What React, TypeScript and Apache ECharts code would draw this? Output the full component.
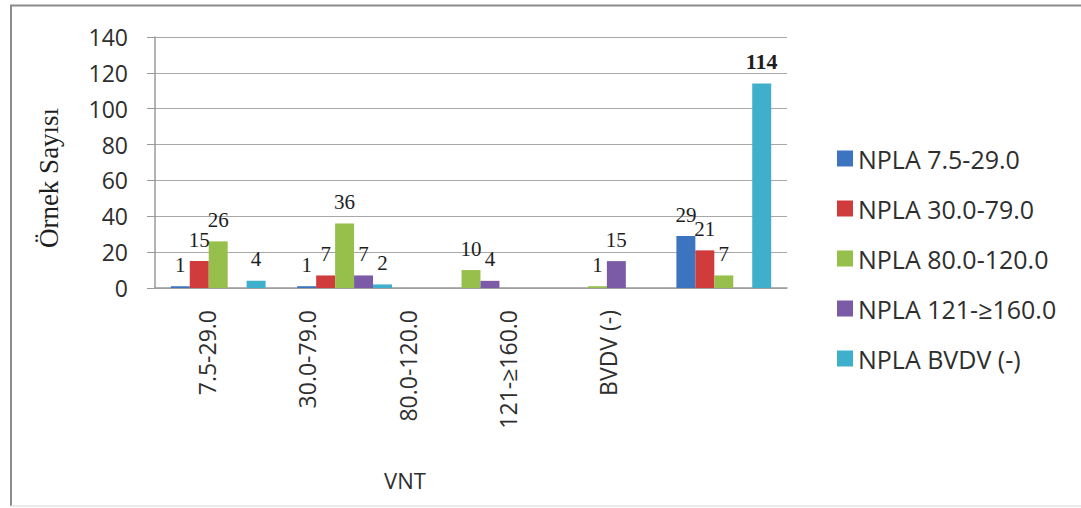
import React, { useEffect, useRef } from "react";
import * as echarts from "echarts";

// VNT categories on the x axis
const categories = ["7.5-29.0", "30.0-79.0", "80.0-120.0", "121-≥160.0", "BVDV (-)"];

// NPLA groups (one series each)
const seriesNames = [
  "NPLA 7.5-29.0",
  "NPLA 30.0-79.0",
  "NPLA 80.0-120.0",
  "NPLA 121-≥160.0",
  "NPLA BVDV (-)",
];
const npla75 = [1, 1, null, null, 29];
const npla30 = [15, 7, null, null, 21];
const npla80 = [26, 36, 10, 1, 7];
const npla121 = [null, 7, 4, 15, null];
const nplaBvdv = [4, 2, null, null, 114];

const yTicks = { min: 0, max: 140, interval: 20 };

const colors = ["#3d74c0", "#d03c3c", "#96bf4b", "#7b5aa6", "#3fb0cc"];
const SANS = "'Open Sans', 'Noto Sans', sans-serif";
const SERIF = "'Liberation Serif', 'DejaVu Serif', serif";

export default function App() {
  const ref = useRef<HTMLDivElement>(null);

  useEffect(() => {
    if (!ref.current) return;
    const chart = echarts.init(ref.current, null, { renderer: "svg" });
    const allSeries = [npla75, npla30, npla80, npla121, nplaBvdv];

    chart.setOption({
      animation: false,
      backgroundColor: "#ffffff",
      color: colors,
      grid: [
        { left: 155, top: 37, width: 632, height: 251, containLabel: false },
        // label row for the category names
        { left: 157, top: 37, width: 501, height: 251, containLabel: false },
      ],
      legend: {
        orient: "vertical",
        left: 832,
        top: 141,
        itemWidth: 16,
        itemHeight: 16,
        itemGap: 25,
        icon: "rect",
        data: seriesNames,
        textStyle: { fontFamily: SANS, fontSize: 25, color: "#2e2e2e" },
      },
      xAxis: [
        {
          type: "category",
          gridIndex: 0,
          data: categories,
          axisLine: { show: true, lineStyle: { color: "#9a9a9a", width: 1.5 } },
          axisTick: { show: false },
          axisLabel: { show: false },
          splitLine: { show: false },
        },
        {
          type: "category",
          gridIndex: 1,
          data: categories,
          axisLine: { show: false },
          axisTick: { show: false },
          splitLine: { show: false },
          axisLabel: {
            rotate: 90,
            margin: 22,
            interval: 0,
            fontFamily: SANS,
            fontSize: 23,
            color: "#2e2e2e",
          },
        },
      ],
      yAxis: [
        {
          type: "value",
          gridIndex: 0,
          min: yTicks.min,
          max: yTicks.max,
          interval: yTicks.interval,
          axisLine: { show: true, lineStyle: { color: "#9a9a9a", width: 1.5 } },
          axisTick: { show: true, length: 8, inside: false, lineStyle: { color: "#9a9a9a" } },
          splitLine: { show: true, lineStyle: { color: "#a8a8a8", width: 1.2 } },
          axisLabel: {
            margin: 27,
            fontFamily: SANS,
            fontSize: 23,
            color: "#2e2e2e",
          },
        },
        {
          type: "value",
          gridIndex: 1,
          min: yTicks.min,
          max: yTicks.max,
          show: false,
        },
      ],
      series: allSeries.map((vals, i) => ({
        name: seriesNames[i],
        type: "bar",
        xAxisIndex: 0,
        yAxisIndex: 0,
        barGap: "0%",
        barCategoryGap: "25%",
        data: vals.map((v) =>
          v === null
            ? null
            : v >= 100
            ? { value: v, label: { fontWeight: "bold", fontSize: 22 } }
            : v
        ),
        itemStyle: { color: colors[i] },
        label: {
          show: true,
          position: "top",
          distance: 11,
          fontFamily: SERIF,
          fontSize: 21,
          color: "#1e1e1e",
        },
      })),
      graphic: [
        {
          type: "text",
          x: 49,
          y: 178,
          rotation: Math.PI / 2,
          style: {
            text: "Örnek Sayısı",
            fontFamily: SERIF,
            fontSize: 27,
            fill: "#1e1e1e",
            align: "center",
            verticalAlign: "middle",
          },
        },
        {
          type: "text",
          x: 405,
          y: 480,
          style: {
            text: "VNT",
            fontFamily: SANS,
            fontSize: 22,
            fill: "#2e2e2e",
            align: "center",
            verticalAlign: "middle",
          },
        },
        // chart frame
        {
          type: "line",
          shape: { x1: 10, y1: 5.5, x2: 1081, y2: 5.5 },
          style: { stroke: "#8c8c8c", lineWidth: 2 },
        },
        {
          type: "line",
          shape: { x1: 11, y1: 5, x2: 11, y2: 506 },
          style: { stroke: "#8c8c8c", lineWidth: 2 },
        },
        {
          type: "line",
          shape: { x1: 11, y1: 506, x2: 1081, y2: 506 },
          style: { stroke: "#e4e4e4", lineWidth: 1.5 },
        },
      ],
    });

    return () => chart.dispose();
  }, []);

  return (
    <div
      ref={ref}
      style={{ position: "fixed", left: 0, top: 0, width: 1081, height: 508 }}
    />
  );
}
